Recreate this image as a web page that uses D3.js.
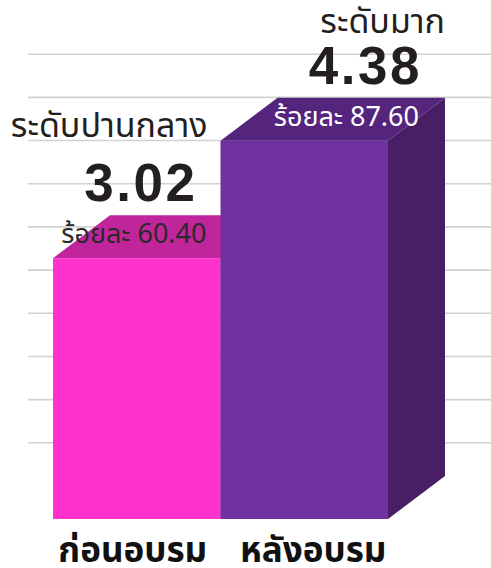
<!DOCTYPE html>
<html>
<head>
<meta charset="utf-8">
<script src="https://cdn.jsdelivr.net/npm/d3@7"></script>
<style>
  body { margin: 0; background: #fff; }
  text { font-family: "Noto Sans Thai", "Noto Sans", "DejaVu Sans", sans-serif; }
</style>
</head>
<body>
<svg id="chart"></svg>
<script>
const categories = ['ก่อนอบรม', 'หลังอบรม'];
const means = [3.02, 4.38];
const percents = ['60.40', '87.60'];
const levels = ['ระดับปานกลาง', 'ระดับมาก'];
const gridValues = [0.5, 1, 1.5, 2, 2.5, 3, 3.5, 4, 4.5, 5];

const frontColors = ['#ff33cc', '#6f30a0'];
const topColors = ['#c1259b', '#55247d'];
const sideColors = ['#9e1d80', '#481f64'];

const config = {
  width: 491, height: 568,
  baseY: 519, chartLeft: 53, chartRight: 388,
  depthX: 57, depthY: 43, gridShift: 33,
};

// label offsets from each bar's front right edge
const pctDx = [-14, 31];
const meanDx = [-23, 34];
const levelDx = [-13, 57];
const levelDy = [-121, -108];
const catDx = [-4, 9];

const svg = d3.select('#chart')
  .attr('width', config.width)
  .attr('height', config.height);

const yScale = d3.scaleLinear()
  .domain([0, 5.5])
  .range([config.baseY, config.baseY - 475]);

const xScale = d3.scaleBand()
  .domain(categories)
  .range([config.chartLeft, config.chartRight])
  .padding(0);

// gridlines sit on the back wall
svg.append('g')
  .selectAll('line')
  .data(gridValues)
  .join('line')
  .attr('x1', 28)
  .attr('x2', config.width)
  .attr('y1', (d) => yScale(d) - config.gridShift)
  .attr('y2', (d) => yScale(d) - config.gridShift)
  .attr('stroke', '#d2d2d2')
  .attr('stroke-width', 1.6);

const bars = categories.map((c, i) => ({ c, v: means[i], i }));
const bw = xScale.bandwidth();
const dx = config.depthX;
const dy = config.depthY;

const barG = svg.append('g')
  .selectAll('g')
  .data(bars)
  .join('g');

// side face
barG.append('path')
  .attr('d', (d) => {
    const x = xScale(d.c) + bw;
    const yt = yScale(d.v);
    const yb = yScale(0);
    return `M${x},${yt}L${x + dx},${yt - dy}L${x + dx},${yb - dy}L${x},${yb}Z`;
  })
  .attr('fill', (d) => sideColors[d.i]);

// top face
barG.append('path')
  .attr('d', (d) => {
    const x = xScale(d.c);
    const yt = yScale(d.v);
    return `M${x},${yt}L${x + dx},${yt - dy}L${x + bw + dx},${yt - dy}L${x + bw},${yt}Z`;
  })
  .attr('fill', (d) => topColors[d.i]);

// front face
barG.append('rect')
  .attr('x', (d) => xScale(d.c))
  .attr('y', (d) => yScale(d.v))
  .attr('width', bw)
  .attr('height', (d) => yScale(0) - yScale(d.v))
  .attr('fill', (d) => frontColors[d.i]);

// labels go on top of every bar
const labelG = svg.append('g')
  .selectAll('g')
  .data(bars)
  .join('g');

labelG.append('text')
  .attr('x', (d) => xScale(d.c) + bw + pctDx[d.i])
  .attr('y', (d) => yScale(d.v) - 15)
  .attr('text-anchor', 'end')
  .attr('font-size', 27)
  .attr('fill', (d) => (d.i === 0 ? '#2a2a2a' : '#ffffff'))
  .text((d) => `ร้อยละ ${percents[d.i]}`);

labelG.append('text')
  .attr('x', (d) => xScale(d.c) + bw + meanDx[d.i])
  .attr('y', (d) => yScale(d.v) - 57)
  .attr('text-anchor', 'end')
  .attr('font-size', 53)
  .attr('font-weight', 'bold')
  .attr('letter-spacing', 2.5)
  .attr('fill', '#231f20')
  .style('font-family', '"Liberation Sans", Arial, sans-serif')
  .text((d) => d3.format('.2f')(d.v));

labelG.append('text')
  .attr('x', (d) => xScale(d.c) + bw + levelDx[d.i])
  .attr('y', (d) => yScale(d.v) + levelDy[d.i])
  .attr('text-anchor', 'end')
  .attr('font-size', 34)
  .attr('fill', '#231f20')
  .text((d) => levels[d.i]);

// category axis
const xAxis = d3.axisBottom(xScale).tickSize(0).tickPadding(0);
svg.append('g')
  .attr('transform', `translate(0,${config.baseY})`)
  .call(xAxis)
  .call((g) => g.select('.domain').remove())
  .selectAll('text')
  .attr('x', (d, i) => catDx[i])
  .attr('y', 43)
  .attr('dy', null)
  .attr('font-size', 35)
  .attr('font-weight', 'bold')
  .attr('fill', '#111')
  .style('font-family', '"Noto Sans Thai", "Noto Sans", sans-serif');
</script>
</body>
</html>
